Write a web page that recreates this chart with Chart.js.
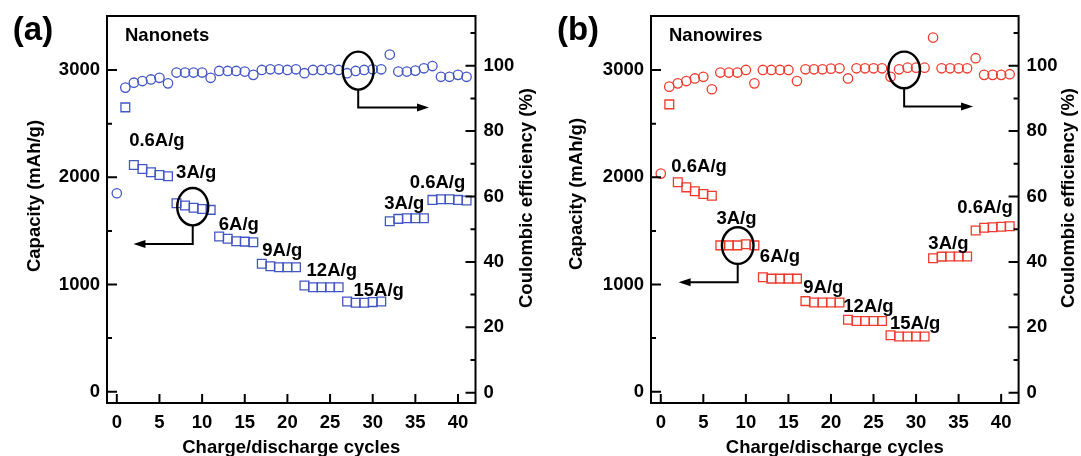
<!DOCTYPE html>
<html>
<head>
<meta charset="utf-8">
<script src="https://cdn.jsdelivr.net/npm/chart.js@4.4.0/dist/chart.umd.min.js"></script>
<style>
  html, body { margin:0; padding:0; background:#fff; }
  #wrap { display:flex; width:1081px; height:456px; }
  canvas { display:block; }
</style>
</head>
<body>
<div id="wrap">
  <canvas id="nanonets_chart" width="540" height="456"></canvas>
  <canvas id="nanowires_chart" width="541" height="456"></canvas>
</div>
<script>
// cycle numbers (circles start at 0, squares at 1)
const ceCycles = [0,1,2,3,4,5,6,7,8,9,10,11,12,13,14,15,16,17,18,19,20,
    21,22,23,24,25,26,27,28,29,30,31,32,33,34,35,36,37,38,39,40,41];
const capCycles = [1,2,3,4,5,6,7,8,9,10,11,12,13,14,15,16,17,18,19,20,
    21,22,23,24,25,26,27,28,29,30,31,32,33,34,35,36,37,38,39,40,41];

// axis ticks
const xTicks = [0, 5, 10, 15, 20, 25, 30, 35, 40];
const capTicks = [0, 500, 1000, 1500, 2000, 2500, 3000];
const ceTicks = [0, 10, 20, 30, 40, 50, 60, 70, 80, 90, 100, 110];

// (a) nanonets
const netsCapacity = [2652, 2115, 2078, 2047, 2022, 2009, 1758, 1736, 1715, 1705, 1696,
    1447, 1426, 1404, 1400, 1394, 1193, 1171, 1161, 1161, 1161, 991, 975, 975, 975, 975,
    842, 830, 830, 836, 842, 1590, 1612, 1618, 1618, 1618, 1789, 1795, 1795, 1789, 1783];
const netsCE = [61, 93.3, 94.8, 95.3, 95.8, 96.3, 94.6, 97.9, 97.9, 97.9, 97.9, 96.3,
    98.4, 98.4, 98.4, 98.2, 97.2, 98.7, 98.9, 98.9, 98.7, 98.9, 97.7, 98.7, 98.7, 98.9,
    98.7, 97.7, 98.4, 98.7, 98.9, 98.9, 103.4, 98.2, 98.2, 98.5, 99.2, 99.9, 96.6, 96.6,
    97.2, 96.6];

// (b) nanowires
const wiresCapacity = [2680, 1953, 1906, 1869, 1844, 1828, 1365, 1365, 1365, 1375, 1365,
    1068, 1055, 1055, 1055, 1055, 845, 832, 832, 832, 832, 672, 660, 660, 660, 660,
    526, 515, 515, 515, 515, 1245, 1260, 1262, 1262, 1262, 1503, 1530, 1534, 1538, 1543];
const wiresCE = [67, 93.6, 94.6, 95.3, 96.1, 96.6, 92.8, 97.9, 97.9, 97.9, 98.7, 94.6,
    98.7, 98.7, 98.7, 98.7, 95.3, 98.9, 98.9, 98.9, 99.1, 99.2, 96.1, 99.2, 99.2, 99.2,
    99.2, 96.6, 98.9, 99.4, 99.4, 99.4, 108.6, 99.2, 99.2, 99.2, 99.2, 102.3, 97.2, 97.2,
    97.2, 97.4];

const rateLabels = ["0.6A/g", "3A/g", "6A/g", "9A/g", "12A/g", "15A/g", "3A/g", "0.6A/g"];

Chart.defaults.font.family = "'Liberation Sans', Arial, sans-serif";
Chart.defaults.font.size = 18.5;
Chart.defaults.font.weight = "bold";
Chart.defaults.color = "#000";

function toPoints(xs, ys){
    return xs.map((x, i) => ({x: x, y: ys[i]}));
}

// frame, inward ticks, titles and the notes drawn on top
const decor = {
    id: "decor",
    afterDraw(chart, args, o){
        const ctx = chart.ctx, a = chart.chartArea;
        const sx = chart.scales.x, yl = chart.scales.yCap, yr = chart.scales.yCE;
        ctx.save();
        ctx.strokeStyle = "#000";
        ctx.fillStyle = "#000";
        ctx.lineWidth = 2;
        ctx.beginPath();
        xTicks.forEach(v => {
            let p = sx.getPixelForValue(v);
            ctx.moveTo(p, a.bottom); ctx.lineTo(p, a.bottom - 9);
        });
        capTicks.forEach(v => {
            let p = yl.getPixelForValue(v);
            ctx.moveTo(a.left, p); ctx.lineTo(a.left + (v % 1000 === 0 ? 10 : 5), p);
        });
        ceTicks.forEach(v => {
            let p = yr.getPixelForValue(v);
            ctx.moveTo(a.right, p); ctx.lineTo(a.right - (v % 20 === 0 ? 10 : 5), p);
        });
        ctx.stroke();
        ctx.strokeRect(a.left, a.top, a.right - a.left, a.bottom - a.top);

        // axis titles
        ctx.textAlign = "center";
        ctx.textBaseline = "middle";
        ctx.font = "bold 18.5px 'Liberation Sans', Arial, sans-serif";
        ctx.fillText("Charge/discharge cycles", (a.left + a.right) / 2, o.xTitleY);
        [[o.leftTitle, "Capacity (mAh/g)"], [o.rightTitle, "Coulombic efficiency (%)"]].forEach(t => {
            ctx.save();
            ctx.translate(t[0][0], t[0][1]);
            ctx.rotate(-Math.PI / 2);
            ctx.fillText(t[1], 0, 0);
            ctx.restore();
        });

        // panel letter and sample name
        ctx.font = "bold 33px 'Liberation Sans', Arial, sans-serif";
        ctx.fillText(o.letter, o.letterPos[0], o.letterPos[1]);
        ctx.textAlign = "left";
        ctx.font = "bold 18.5px 'Liberation Sans', Arial, sans-serif";
        ctx.fillText(o.name, o.namePos[0], o.namePos[1]);

        // current density notes
        ctx.textAlign = "center";
        rateLabels.forEach((txt, i) => {
            ctx.fillText(txt, sx.getPixelForValue(o.labelX[i]), yl.getPixelForValue(o.labelY[i]));
        });

        // ellipses with arrows
        o.rings.forEach(r => {
            let sc = chart.scales[r.axis];
            let cx = sx.getPixelForValue(r.x), cy = sc.getPixelForValue(r.y);
            let ay = sc.getPixelForValue(r.arrowY), tx = sx.getPixelForValue(r.tipX);
            let dir = tx > cx ? 1 : -1;
            ctx.lineWidth = 2.4;
            ctx.beginPath();
            ctx.ellipse(cx, cy, r.rx, r.ry, 0, 0, Math.PI * 2);
            ctx.stroke();
            ctx.lineWidth = 2;
            ctx.beginPath();
            ctx.moveTo(cx, cy + r.ry);
            ctx.lineTo(cx, ay);
            ctx.lineTo(tx - dir * 10, ay);
            ctx.stroke();
            ctx.beginPath();
            ctx.moveTo(tx, ay);
            ctx.lineTo(tx - dir * 12, ay - 4);
            ctx.lineTo(tx - dir * 12, ay + 4);
            ctx.closePath();
            ctx.fill();
        });
        ctx.restore();
    }
};

function makePanel(id, cap, ce, color, p){
    return new Chart(document.getElementById(id), {
        type: "scatter",
        plugins: [decor],
        data: {
            datasets: [
                {
                    label: "Capacity",
                    data: toPoints(capCycles, cap),
                    yAxisID: "yCap",
                    pointStyle: "rect",
                    pointRadius: 6.2,
                    pointBorderWidth: 1.3,
                    borderColor: color,
                    backgroundColor: "rgba(0,0,0,0)"
                },
                {
                    label: "Coulombic efficiency",
                    data: toPoints(ceCycles, ce),
                    yAxisID: "yCE",
                    pointStyle: "circle",
                    pointRadius: 4.7,
                    pointBorderWidth: 1.3,
                    borderColor: color,
                    backgroundColor: "rgba(0,0,0,0)"
                }
            ]
        },
        options: {
            responsive: false,
            animation: false,
            events: [],
            layout: { padding: { top: 16, left: 0, right: 0, bottom: 0 } },
            plugins: {
                legend: { display: false },
                tooltip: { enabled: false },
                decor: p
            },
            scales: {
                x: {
                    type: "linear", min: -1.15, max: 42.05,
                    grid: { display: false, drawTicks: false },
                    border: { display: false },
                    ticks: { padding: 9, autoSkip: false, maxRotation: 0 },
                    afterBuildTicks: s => { s.ticks = xTicks.map(v => ({value: v})); },
                    afterFit: s => { s.height = 53; s.paddingLeft = 0; s.paddingRight = 0; }
                },
                yCap: {
                    type: "linear", position: "left", min: -105, max: 3504,
                    grid: { display: false, drawTicks: false },
                    border: { display: false },
                    ticks: { padding: 7, callback: v => v % 1000 === 0 ? String(v) : "" },
                    afterBuildTicks: s => { s.ticks = capTicks.map(v => ({value: v})); },
                    afterFit: s => { s.width = p.leftW; s.paddingTop = 0; s.paddingBottom = 0; }
                },
                yCE: {
                    type: "linear", position: "right", min: -3.15, max: 115.2,
                    grid: { display: false, drawTicks: false },
                    border: { display: false },
                    ticks: { padding: 8, callback: v => (v % 20 === 0 && v <= 100) ? String(v) : "" },
                    afterBuildTicks: s => { s.ticks = ceTicks.map(v => ({value: v})); },
                    afterFit: s => { s.width = p.rightW; s.paddingTop = 0; s.paddingBottom = 0; }
                }
            }
        }
    });
}

let nanonets_chart = makePanel("nanonets_chart", netsCapacity, netsCE, "rgb(66, 86, 196)", {
    leftW: 107, rightW: 64.5,
    xTitleY: 448, leftTitle: [34.5, 196], rightTitle: [527, 198],
    letter: "(a)", letterPos: [33, 31], name: "Nanonets", namePos: [125, 36],
    labelX: [4.7, 9.3, 14.3, 19.4, 25.2, 30.7, 33.7, 37.6],
    labelY: [2335, 2040, 1560, 1310, 1130, 945, 1750, 1945],
    rings: [
        { axis: "yCap", x: 8.9, y: 1726, rx: 15.5, ry: 18.7, arrowY: 1378, tipX: 1.95 },
        { axis: "yCE", x: 28.3, y: 98.5, rx: 15.5, ry: 19, arrowY: 87.2, tipX: 36.6 }
    ]
});

let nanowires_chart = makePanel("nanowires_chart", wiresCapacity, wiresCE, "rgb(240, 58, 44)", {
    leftW: 111, rightW: 62.4,
    xTitleY: 448, leftTitle: [37, 194], rightTitle: [528.5, 198],
    letter: "(b)", letterPos: [38, 31], name: "Nanowires", namePos: [129, 36],
    labelX: [4.5, 8.9, 14.0, 19.1, 24.4, 29.9, 33.8, 38.1],
    labelY: [2100, 1615, 1258, 967, 792, 633, 1382, 1717],
    rings: [
        { axis: "yCap", x: 9.04, y: 1363, rx: 15.8, ry: 18.3, arrowY: 1021, tipX: 2.1 },
        { axis: "yCE", x: 28.6, y: 98.7, rx: 15.8, ry: 18.3, arrowY: 87.5, tipX: 36.7 }
    ]
});
</script>
</body>
</html>
